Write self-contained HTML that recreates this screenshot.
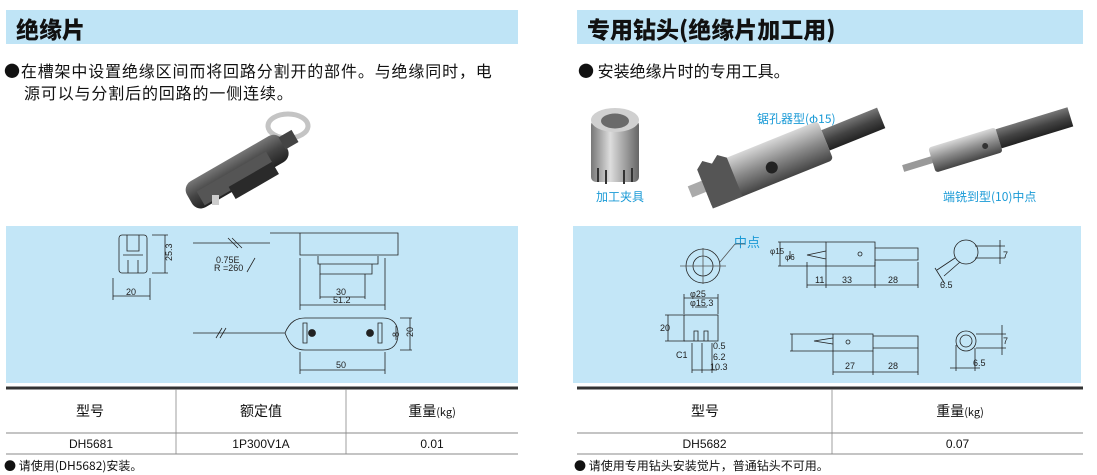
<!DOCTYPE html>
<html><head><meta charset="utf-8"><style>
body{margin:0;width:1097px;height:475px;background:#fff;position:relative;overflow:hidden;font-family:"Liberation Sans","Noto Sans CJK SC",sans-serif;color:#111}
.a{position:absolute;white-space:nowrap}
.hd{position:absolute;background:#bfe4f6;height:34px;top:10px}
.hd span{position:absolute;left:10px;top:1px;font-size:23px;font-weight:900;font-family:"Noto Sans CJK SC",sans-serif;color:#111}
.bl{position:absolute;background:#c3e6f7;top:226px;height:157px}
.t{font-size:16px;font-family:"Noto Sans CJK SC",sans-serif}
.blue{color:#1a9ad6;font-size:12px;font-family:"Noto Sans CJK SC",sans-serif}
svg{position:absolute;left:0;top:0}
</style></head><body>
<div class="hd" style="left:6px;width:512px"><span>绝缘片</span></div>
<div class="hd" style="left:577px;width:506px"><span>专用钻头(绝缘片加工用)</span></div>
<div class="a t" style="left:4px;top:58px;letter-spacing:0.85px">●在槽架中设置绝缘区间而将回路分割开的部件。与绝缘同时，电</div>
<div class="a t" style="left:24px;top:80px;letter-spacing:0.85px">源可以与分割后的回路的一侧连续。</div>
<div class="a t" style="left:578px;top:58px">● 安装绝缘片时的专用工具。</div>
<div class="bl" style="left:6px;width:512px"></div>
<div class="bl" style="left:573px;width:508px"></div>
<div class="a blue" style="left:757px;top:110px">锯孔器型(φ15)</div>
<div class="a blue" style="left:596px;top:188px">加工夹具</div>
<div class="a blue" style="left:943px;top:188px">端铣到型(10)中点</div>
<div class="a blue" style="left:734px;top:232px;font-size:13px">中点</div>
<svg width="1097" height="475" font-family="Liberation Sans" font-size="9" fill="none" stroke="#222" stroke-width="0.8">
<defs>
<linearGradient id="g" x1="0" y1="0" x2="0" y2="1"><stop offset="0" stop-color="#d8d8d8"/><stop offset="0.5" stop-color="#8a8a8a"/><stop offset="1" stop-color="#444"/></linearGradient>
<linearGradient id="gh" x1="0" y1="0" x2="1" y2="0"><stop offset="0" stop-color="#777"/><stop offset="0.4" stop-color="#ddd"/><stop offset="1" stop-color="#666"/></linearGradient>
<linearGradient id="gd" x1="0" y1="0" x2="0" y2="1"><stop offset="0" stop-color="#777"/><stop offset="0.5" stop-color="#444"/><stop offset="1" stop-color="#222"/></linearGradient>
</defs>
<ellipse cx="288" cy="126" rx="20" ry="12" stroke="#c4c4c4" stroke-width="5"/>
<g transform="translate(190,200) rotate(-30)" stroke="none">
<rect x="0" y="-16" width="110" height="30" rx="10" fill="url(#gd)"/>
<rect x="10" y="-4" width="80" height="16" fill="#555"/>
<rect x="40" y="8" width="50" height="14" fill="#2a2a2a"/>
<rect x="108" y="-10" width="15" height="14" fill="#444"/>
</g>
<rect x="212" y="195" width="7" height="10" fill="#ccc" stroke="none"/>
<rect x="591" y="120" width="48" height="62" rx="5" fill="url(#gh)" stroke="none"/>
<ellipse cx="615" cy="120" rx="24" ry="12" fill="#d0d0d0" stroke="none"/>
<ellipse cx="615" cy="121" rx="14" ry="7.5" fill="#6a6a6a" stroke="none"/>
<path d="M598 168v14M606 170v14M624 170v14M632 168v14" stroke="#333" stroke-width="2"/>
<g transform="translate(700,190) rotate(-22)" stroke="none">
<rect x="-10" y="-8" width="25" height="12" fill="#aaa"/>
<rect x="5" y="-20" width="130" height="42" rx="4" fill="url(#g)"/>
<path d="M5 -20l8 -6 8 6 8 -6 8 6v42h-32z" fill="#555"/>
<circle cx="75" cy="6" r="6" fill="#222"/>
<rect x="135" y="-10" width="60" height="22" fill="url(#gd)"/>
</g>
<g transform="translate(903,168) rotate(-17)" stroke="none">
<rect x="0" y="-3" width="35" height="7" fill="#999"/>
<rect x="30" y="-12" width="70" height="26" rx="3" fill="url(#g)"/>
<circle cx="85" cy="3" r="3" fill="#333"/>
<rect x="100" y="-10" width="75" height="20" fill="url(#gd)"/>
</g>
<rect x="119" y="235" width="28" height="38" rx="3"/><path d="M127 235v16h12v-16M123 255h20M128 260v13M138 260v13"/>
<path d="M152 235h16M152 273h16M165 235v38M113 278v22M150 278v22M113 296h37"/>
<text x="161" y="260" transform="rotate(-90 167 255)" fill="#222" stroke="none">25.3</text>
<text x="126" y="295" fill="#222" stroke="none">20</text>
<path d="M193 243h77M270 233h128v22h-98v-22M318 256v8h60v-8M320 264v10h52v-10"/>
<path d="M228 238l10 10M232 238l10 10M255 258l-8 14"/>
<text x="216" y="263" fill="#222" stroke="none">0.75E</text><text x="214" y="271" fill="#222" stroke="none">R =260</text>
<path d="M300 258v52M385 258v52M320 274v25M365 274v25M320 297h45M300 305h85"/>
<text x="336" y="295" fill="#222" stroke="none">30</text><text x="333" y="303" fill="#222" stroke="none">51.2</text>
<path d="M193 333h92M285 333c5-12 12-15 20-15h78c10 0 15 6 15 16s-5 16-15 16h-78c-8 0-15-3-20-17z"/>
<path d="M222 328l-6 10M226 328l-6 10M303 323h4v20h-4zM378 323h4v20h-4z"/>
<circle cx="312" cy="333" r="3.5" fill="#222"/><circle cx="370" cy="333" r="3.5" fill="#222"/>
<path d="M400 318h12M400 350h12M410 318v32M396 326v14"/><text x="400" y="328" fill="#222" stroke="none" transform="rotate(-90 404 333)">8</text><text x="412" y="330" fill="#222" stroke="none" transform="rotate(-90 416 333)">20</text>
<path d="M300 352v22M385 352v22M300 370h85"/><text x="336" y="368" fill="#222" stroke="none">50</text>
<circle cx="703" cy="266" r="17"/><circle cx="703" cy="266" r="10"/><path d="M680 266h46M703 248v36M720 262l15-18h10" stroke="#555"/>
<path d="M807 255l19-4v8zM826 242h49v24h-49zM875 248h43v12h-43z"/><circle cx="860" cy="254" r="2"/>
<path d="M778 242h48M778 266h48M780 242v24M790 251v8M807 262v26M826 266v22M875 262v26M918 262v26M807 285h111"/>
<text x="815" y="283" fill="#222" stroke="none">11</text><text x="842" y="283" fill="#222" stroke="none">33</text><text x="888" y="283" fill="#222" stroke="none">28</text>
<text x="770" y="254" fill="#222" stroke="none" font-size="8">φ15</text><text x="785" y="260" fill="#222" stroke="none" font-size="8">φ6</text>
<circle cx="966" cy="252" r="12"/><path d="M955 258l-18 12M960 262l-16 14M975 246h30M975 258h30M1000 240v24M935 268l10 16"/>
<text x="1003" y="258" fill="#222" stroke="none">7</text><text x="940" y="288" fill="#222" stroke="none">6.5</text>
<rect x="684" y="315" width="34" height="26"/><path d="M694 341v-10h4v10M704 341v-10h4v10M684 294v20M718 294v20M684 298h34M695 307h12M665 315h20M665 341h20M668 315v26M692 343v30M702 343v30M712 343v30M692 370h25"/>
<text x="690" y="297" fill="#222" stroke="none">φ25</text><text x="690" y="306" fill="#222" stroke="none">φ15.3</text>
<text x="660" y="331" fill="#222" stroke="none">20</text><text x="676" y="358" fill="#222" stroke="none">C1</text>
<text x="713" y="349" fill="#222" stroke="none">0.5</text><text x="713" y="360" fill="#222" stroke="none">6.2</text><text x="710" y="370" fill="#222" stroke="none">10.3</text>
<path d="M814 341l19-3v6zM833 334h40v17h-40zM873 336h45v12h-45z"/><circle cx="848" cy="342" r="2"/>
<path d="M790 334h43M790 351h43M792 334v17M833 351v24M873 351v24M918 348v27M833 372h85"/>
<text x="845" y="369" fill="#222" stroke="none">27</text><text x="888" y="369" fill="#222" stroke="none">28</text>
<circle cx="966" cy="341" r="10"/><circle cx="966" cy="341" r="6"/><path d="M976 334h30M976 348h30M1002 325v30M956 345v26M975 348v23M950 368h30"/>
<text x="1003" y="344" fill="#222" stroke="none">7</text><text x="973" y="366" fill="#222" stroke="none">6.5</text>
<path d="M6 388h512M577 388h506" stroke="#333" stroke-width="3"/>
<path d="M6 433h512M577 433h506M6 454h512M577 454h506" stroke="#888" stroke-width="1"/>
<path d="M176 389v65M346 389v65M832 389v65" stroke="#888"/>
</svg>
<div class="a t" style="left:60px;top:401px;width:60px;text-align:center;font-size:14px">型号</div>
<div class="a t" style="left:231px;top:401px;width:60px;text-align:center;font-size:14px">额定值</div>
<div class="a t" style="left:392px;top:401px;width:80px;text-align:center;font-size:14px">重量<span style="font-size:11px">(kg)</span></div>
<div class="a" style="left:6px;top:437px;width:170px;text-align:center;font-size:12px">DH5681</div>
<div class="a" style="left:176px;top:437px;width:170px;text-align:center;font-size:12px">1P300V1A</div>
<div class="a" style="left:346px;top:437px;width:172px;text-align:center;font-size:12px">0.01</div>
<div class="a t" style="left:670px;top:401px;width:70px;text-align:center;font-size:14px">型号</div>
<div class="a t" style="left:920px;top:401px;width:80px;text-align:center;font-size:14px">重量<span style="font-size:11px">(kg)</span></div>
<div class="a" style="left:577px;top:437px;width:255px;text-align:center;font-size:12px">DH5682</div>
<div class="a" style="left:832px;top:437px;width:251px;text-align:center;font-size:12px">0.07</div>
<div class="a t" style="left:4px;top:457px;font-size:12px">● 请使用(DH5682)安装。</div>
<div class="a t" style="left:574px;top:457px;font-size:12px">● 请使用专用钻头安装觉片，普通钻头不可用。</div>
</body></html>
